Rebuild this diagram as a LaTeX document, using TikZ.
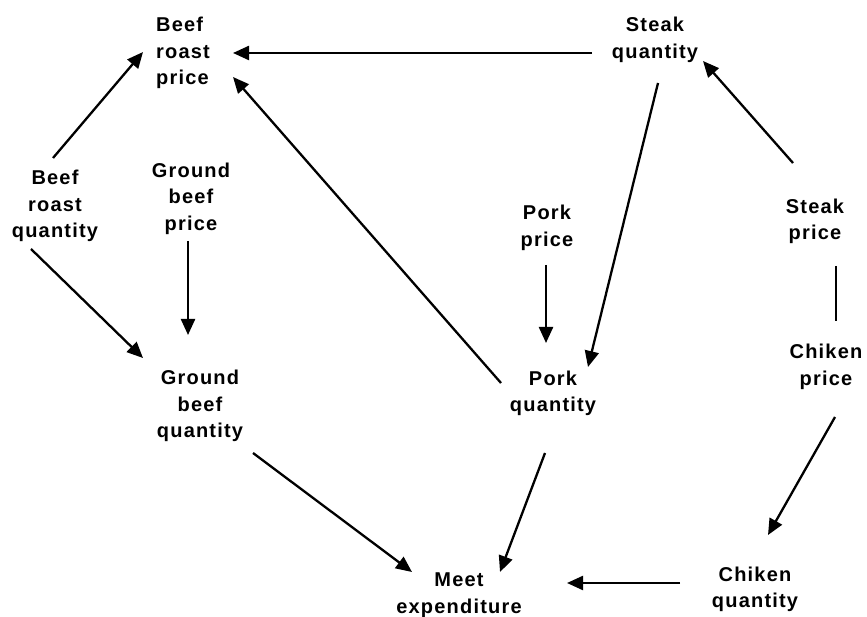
\documentclass[tikz,border=0pt]{standalone}
\usepackage{fontspec}
\setmainfont{Liberation Sans}[LetterSpace=6]
\usetikzlibrary{arrows.meta}
\begin{document}
\begin{tikzpicture}[x=1pt,y=-1pt,
  lbl/.style={inner sep=0pt,align=center,font=\fontsize{20}{26.5}\selectfont\bfseries},
  conn/.style={line width=2.3pt,-{Triangle[length=16pt,width=14pt]}},
  plain/.style={line width=2.3pt}]
\useasboundingbox (0,0) rectangle (867,617);
\node[lbl,align=left] (brp) at (183,53) {Beef\\roast\\price};
\node[lbl] (sq) at (655,40) {Steak\\quantity};
\node[lbl] (brq) at (55,206) {Beef\\roast\\quantity};
\node[lbl] (gbp) at (191,198.5) {Ground\\beef\\price};
\node[lbl] (pp) at (547,228) {Pork\\price};
\node[lbl] (sp) at (815,221.5) {Steak\\price};
\node[lbl] (gbq) at (200,406) {Ground\\beef\\quantity};
\node[lbl] (pq) at (553,393.5) {Pork\\quantity};
\node[lbl] (cp) at (826,367) {Chiken\\price};
\node[lbl] (cq) at (755,589.5) {Chiken\\quantity};
\node[lbl] (me) at (459,595) {Meet\\expenditure};

\draw[conn] ([shift={(-2,-48)}]brq.center) -- ([shift={(-40,-1)}]brp.center);
\draw[conn] ([shift={(-63,13)}]sq.center) -- ([shift={(50,0)}]brp.center);
\draw[conn] ([shift={(-52,-10.5)}]pq.center) -- ([shift={(50,24)}]brp.center);
\draw[conn] ([shift={(-24,43)}]brq.center) -- ([shift={(-57,-48)}]gbq.center);
\draw[conn] ([shift={(-3,42.5)}]gbp.center) -- ([shift={(-12,-71)}]gbq.center);
\draw[conn] ([shift={(53,47)}]gbq.center) -- ([shift={(-47,-23)}]me.center);
\draw[conn] ([shift={(-1,37)}]pp.center) -- ([shift={(-7,-50.5)}]pq.center);
\draw[conn] ([shift={(3,43)}]sq.center) -- ([shift={(35,-26.5)}]pq.center);
\draw[conn] ([shift={(-22,-58.5)}]sp.center) -- ([shift={(48,21)}]sq.center);
\draw[plain] ([shift={(21,44.5)}]sp.center) -- ([shift={(10,-46)}]cp.center);
\draw[conn] ([shift={(9,50)}]cp.center) -- ([shift={(13,-54.5)}]cq.center);
\draw[conn] ([shift={(-8,59.5)}]pq.center) -- ([shift={(41,-23)}]me.center);
\draw[conn] ([shift={(-75,-6.5)}]cq.center) -- ([shift={(108,-12)}]me.center);
\end{tikzpicture}
\end{document}
